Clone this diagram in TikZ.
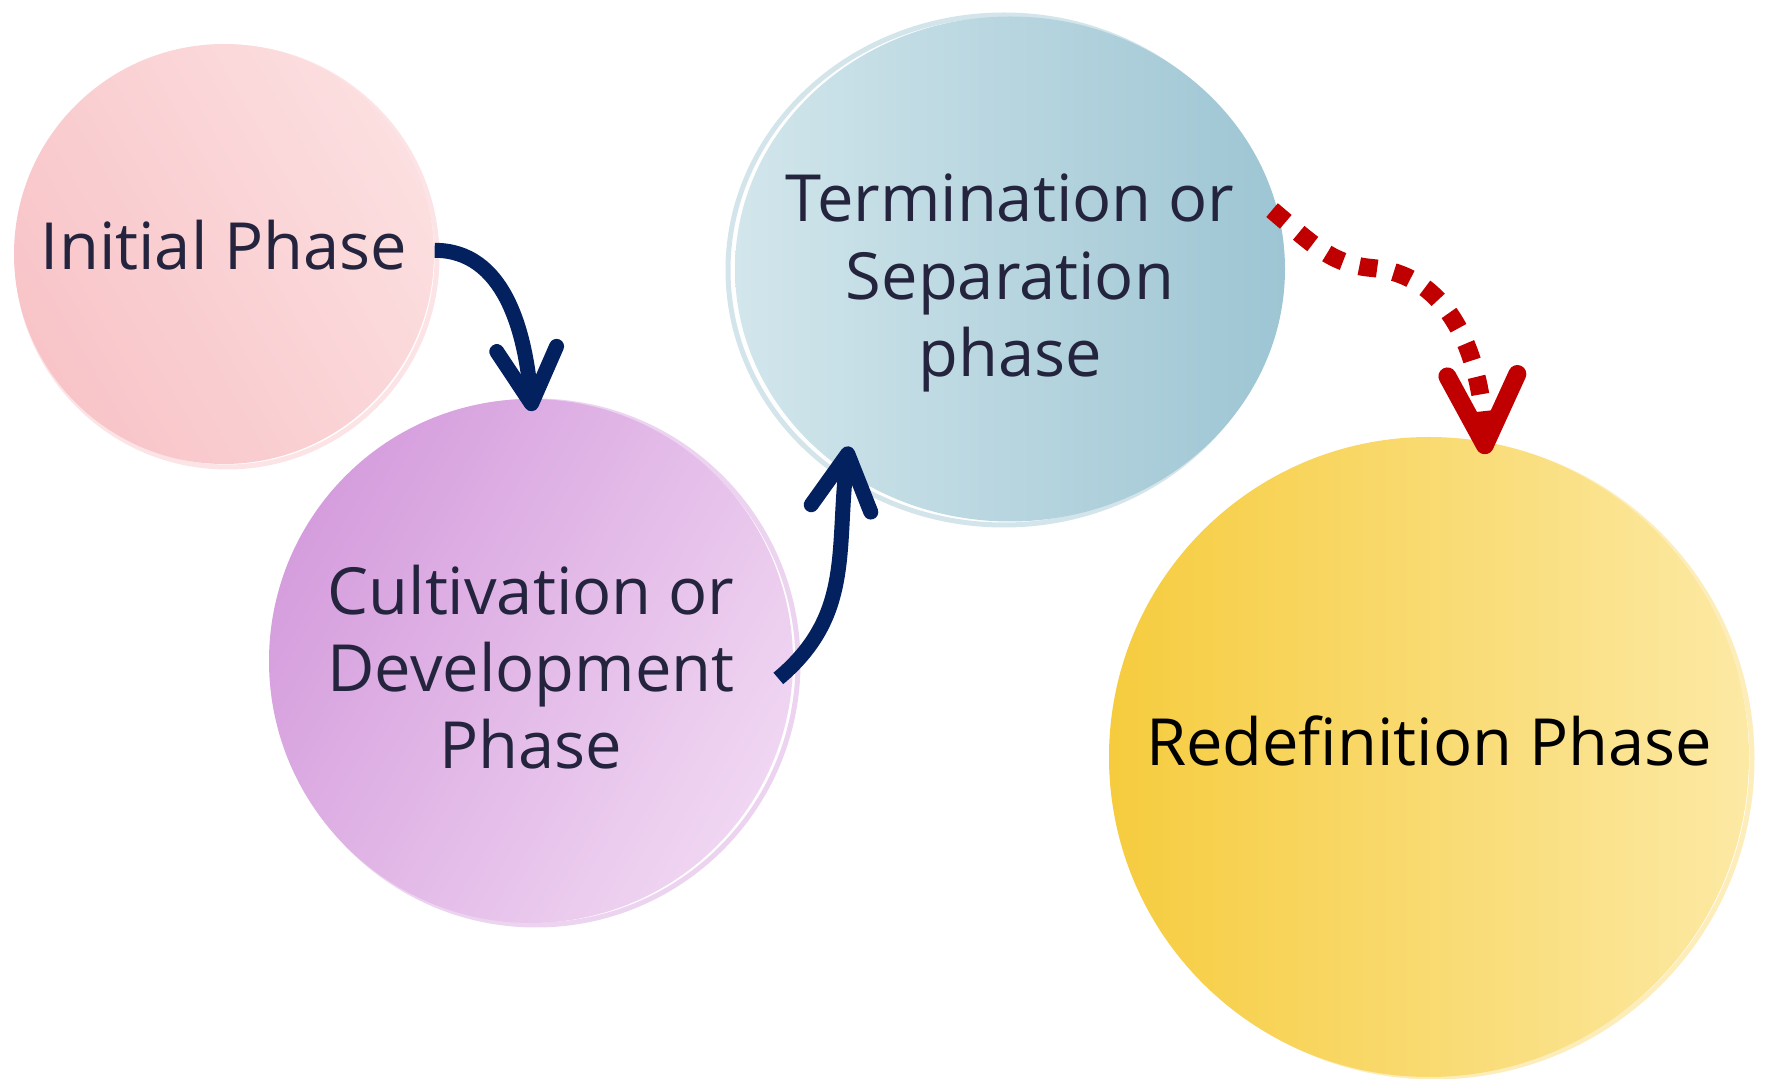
\documentclass[tikz,border=0pt]{standalone}
\usepackage{fontspec}
\setmainfont{Open Sans}
\usepackage{xcolor}
\usepackage{tikz}
\usetikzlibrary{arrows.meta,shapes.geometric}

\definecolor{ink}{HTML}{24243E}
\definecolor{navy}{HTML}{03205F}
\definecolor{tred}{HTML}{C00000}
\definecolor{pinkA}{HTML}{F8C4C8}
\definecolor{pinkB}{HTML}{FCDFE0}
\definecolor{lilacA}{HTML}{D59DDD}
\definecolor{lilacB}{HTML}{F0D6F2}
\definecolor{blueA}{HTML}{D2E6EC}
\definecolor{blueB}{HTML}{9DC5D3}
\definecolor{goldA}{HTML}{F6CC3E}
\definecolor{goldB}{HTML}{FCE9A4}

\begin{document}
\begin{tikzpicture}[
    blot/.style={shape=circle, inner sep=0pt},
    caption/.style={align=center, text=ink, inner sep=0pt,
        font=\fontsize{18.5}{22}\selectfont},
    ring/.style={line width=0.5mm},
    flow/.style={draw=navy, line width=1.5mm,
        -{Straight Barb[length=5.5mm, width=6mm, round]}},
    dots/.style={draw=tred, line width=1.8mm, dash pattern=on 1.8mm off 1.7mm,
        -{Straight Barb[length=7mm, width=7mm, round]}}
]
\useasboundingbox (0,0) rectangle (17.71,10.79);

% faint rims round the blots
\draw[ring, draw=pinkA!45] (2.27,8.22) circle (2.10);
\draw[ring, draw=lilacA!45] (5.36,4.16) circle (2.62);
\draw[ring, draw=blueB!45] (10.04,8.09) ellipse (2.76 and 2.55);
\draw[ring, draw=goldA!35] (14.34,3.20) circle (3.18);

% the four phases
\node[blot, minimum size=4.2cm, left color=pinkA, right color=pinkB, shading angle=120] (ini) at (2.24,8.25) {};
\node[blot, minimum size=5.24cm, left color=lilacA, right color=lilacB, shading angle=60] (pur) at (5.31,4.18) {};
\node[blot, shape=ellipse, minimum width=5.5cm, minimum height=5.05cm, left color=blueA, right color=blueB] (blu) at (10.10,8.10) {};
\node[blot, minimum size=6.4cm, left color=goldA, right color=goldB] (yel) at (14.29,3.22) {};

\node[caption] (iniTxt) at ([yshift=0.09cm]ini.center) {Initial Phase};
\node[caption] (purTxt) at ([yshift=-0.06cm]pur.center) {Cultivation or\\Development\\Phase};
\node[caption] (bluTxt) at ([yshift=-0.14cm]blu.center) {Termination or\\Separation\\phase};
\node[caption, text=black] (yelTxt) at ([yshift=0.16cm]yel.center) {Redefinition Phase};

% connectors
\draw[flow, shorten >=-1.3mm] (ini.1) to[out=0, in=95] (pur.north);
\draw[flow, shorten <=-2mm, shorten >=-2.6mm] (pur.-1) to[out=40, in=-97] (blu.-129);
\coordinate (bend) at (13.72,8.11);
\draw[dots, shorten <=-1mm, shorten >=-1.3mm] (blu.11) to[out=-40, in=175] (bend) to[out=-5, in=92] (yel.80);
\end{tikzpicture}
\end{document}
